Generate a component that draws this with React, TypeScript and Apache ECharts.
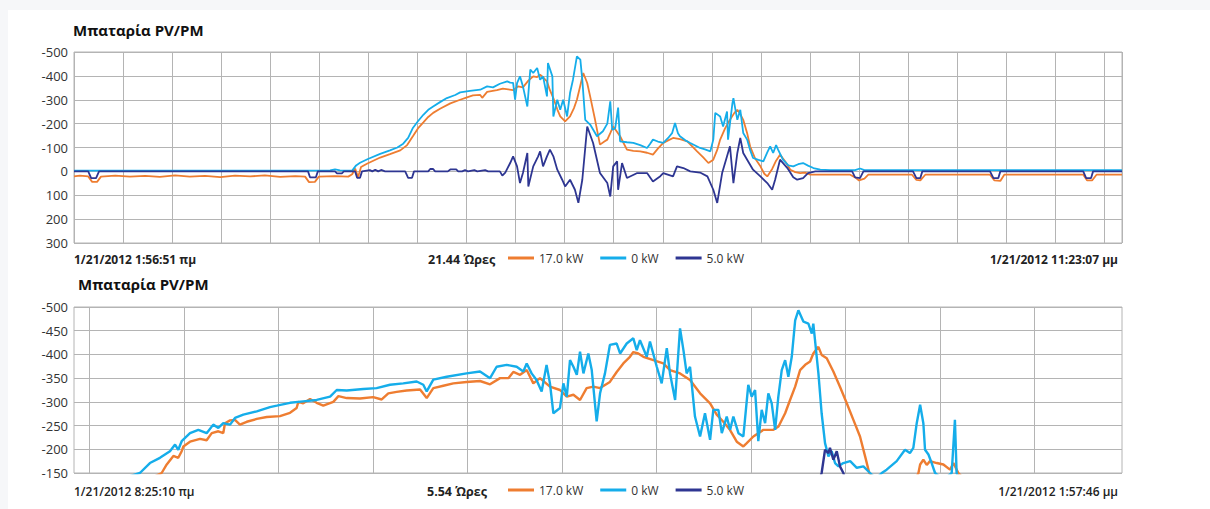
import React, { useEffect, useRef } from "react";
import * as echarts from "echarts";

// ---------- DATA ----------
const SERIES_NAMES = ["17.0 kW", "0 kW", "5.0 kW"];
const COLORS = ["#EE7D31", "#15ADEA", "#2E3692"];

const TITLE = "Μπαταρία PV/PM";
const TOP_START_LABEL = "1/21/2012 1:56:51 πμ";
const TOP_END_LABEL = "1/21/2012 11:23:07 μμ";
const TOP_SPAN_LABEL = "21.44 Ώρες";
const BOTTOM_START_LABEL = "1/21/2012 8:25:10 πμ";
const BOTTOM_END_LABEL = "1/21/2012 1:57:46 μμ";
const BOTTOM_SPAN_LABEL = "5.54 Ώρες";

// top panel: x = hours since 1:56:51
const TOP_X_MAX = 21.36;
// bottom panel: x = clock hours
const BOTTOM_X_MIN = 8.4194;
const BOTTOM_X_MAX = 13.9628;
const BOTTOM_GRID_HOURS = [8.5, 9, 9.5, 10, 10.5, 11, 11.5, 12, 12.5, 13, 13.5];

const TOP_ORANGE: [number, number][] = [
  [0, 21], [0.12, 18], [0.29, 21], [0.37, 44], [0.47, 44], [0.55, 22], [0.84, 18], [1.14, 22], [1.45, 19],
  [1.75, 23], [2.06, 17], [2.36, 22], [2.67, 19], [2.98, 24], [3.28, 18], [3.59, 21], [3.89, 17], [4.2, 23],
  [4.51, 20], [4.71, 22], [4.79, 45], [4.91, 44], [4.99, 22], [5.32, 20], [5.59, 22], [5.67, 12], [5.73, -12],
  [5.79, 25], [5.85, -18], [5.97, -32], [6.24, -58], [6.44, -72], [6.65, -88], [6.79, -110], [6.91, -148],
  [7.01, -180], [7.12, -205], [7.22, -228], [7.32, -245], [7.46, -262], [7.67, -285], [7.87, -300], [8.01, -310],
  [8.13, -318], [8.28, -320], [8.32, -308], [8.42, -333], [8.62, -340], [8.74, -347], [8.95, -340], [9.05, -356],
  [9.15, -352], [9.26, -380],
  [9.36, -398], [9.44, -395], [9.5, -405], [9.58, -390], [9.64, -377], [9.7, -340], [9.77, -307], [9.85, -260],
  [9.91, -230], [10.01, -209], [10.11, -230], [10.19, -265], [10.25, -300], [10.32, -360], [10.38, -412],
  [10.46, -370], [10.52, -314], [10.62, -216], [10.72, -112], [10.81, -125], [10.87, -133], [10.93, -160],
  [10.99, -188], [11.07, -165], [11.13, -147], [11.27, -91], [11.4, -86], [11.54, -84], [11.68, -78],
  [11.8, -70], [11.9, -95], [12.01, -119], [12.11, -130], [12.21, -140], [12.35, -135], [12.5, -126],
  [12.6, -105], [12.7, -84], [12.82, -60], [12.93, -35], [13.03, -49], [13.11, -90], [13.17, -133],
  [13.27, -180], [13.37, -216], [13.46, -245], [13.52, -258], [13.58, -240], [13.64, -216], [13.72, -160],
  [13.78, -105], [13.88, -55], [13.99, -21], [14.07, 10], [14.13, 21], [14.23, -10], [14.31, -45], [14.39, -70],
  [14.5, -40], [14.6, -7], [14.7, 3], [14.8, 7], [14.9, 5], [15.01, 14], [15.21, 14], [15.82, 14], [15.92, 25],
  [16.0, 38], [16.11, 30], [16.19, 14], [17.08, 14], [17.17, 36], [17.25, 38], [17.35, 14], [18.67, 14],
  [18.76, 38], [18.88, 40], [18.96, 14], [20.57, 14], [20.65, 38], [20.75, 38], [20.84, 14], [21.36, 14],
];

const TOP_CYAN: [number, number][] = [
  [0, -3], [4.61, -3], [5.22, -4], [5.32, -8], [5.42, -4], [5.67, -3], [5.75, -25], [5.83, -36], [5.99, -52],
  [6.24, -73], [6.44, -88], [6.59, -100], [6.71, -116], [6.81, -140], [6.91, -183], [7.01, -210], [7.12, -237],
  [7.22, -258], [7.32, -272], [7.46, -290], [7.6, -307], [7.77, -320], [7.87, -331], [8.07, -337], [8.28, -342],
  [8.42, -356], [8.54, -352], [8.68, -367], [8.83, -377], [8.89, -372], [8.95, -371], [8.99, -300],
  [9.03, -370], [9.09, -398], [9.15, -356], [9.24, -272], [9.3, -426], [9.36, -412], [9.44, -433], [9.5, -384],
  [9.56, -398], [9.64, -314], [9.66, -454], [9.75, -398], [9.77, -230], [9.85, -300], [9.91, -258], [9.97, -300],
  [10.05, -230], [10.11, -328], [10.17, -384], [10.25, -482], [10.32, -468], [10.36, -384], [10.42, -216],
  [10.52, -196], [10.66, -147], [10.78, -168], [10.87, -200], [10.93, -293], [10.97, -175], [11.03, -180],
  [11.09, -267], [11.13, -126], [11.27, -122], [11.4, -119], [11.54, -110], [11.68, -98], [11.74, -115],
  [11.8, -133], [11.9, -125], [12.01, -119], [12.11, -140], [12.19, -160], [12.25, -203], [12.31, -160],
  [12.35, -147], [12.46, -130], [12.56, -119], [12.76, -98], [12.86, -92], [12.97, -84], [13.03, -133],
  [13.07, -245], [13.17, -230], [13.23, -188], [13.31, -251], [13.33, -133], [13.42, -286], [13.44, -307],
  [13.48, -260], [13.52, -216], [13.58, -258], [13.64, -161], [13.72, -133], [13.78, -90], [13.84, -56],
  [13.95, -48], [14.05, -42], [14.13, -80], [14.19, -105], [14.25, -77], [14.31, -110], [14.35, -91],
  [14.45, -49], [14.56, -25], [14.66, -21], [14.76, -30], [14.86, -35], [14.96, -24], [15.07, -14],
  [15.21, -7], [15.41, -5], [15.92, -5], [16.02, -12], [16.11, -5], [21.36, -5],
];

const TOP_NAVY: [number, number][] = [
  [0, 0], [0.29, 0], [0.35, 28], [0.45, 28], [0.51, 0], [4.77, 0], [4.81, 25], [4.93, 25], [4.97, 0],
  [5.32, 0], [5.36, 8], [5.46, 8], [5.5, 0], [5.73, 0], [5.77, 27], [5.83, 27], [5.87, 0], [6.03, -5],
  [6.08, 0], [6.14, -7], [6.2, 0], [6.26, -6], [6.34, 0], [6.75, 0], [6.81, 27], [6.89, 27], [6.93, 0],
  [7.22, 0], [7.26, -10], [7.32, -10], [7.36, 0], [7.62, 0], [7.67, -8], [7.79, -8], [7.83, 0], [7.91, 0],
  [7.97, -5], [8.03, 0], [8.16, -5], [8.22, 0], [8.38, -5], [8.44, 0], [8.68, 0], [8.73, 18], [8.79, 5],
  [8.89, -35], [8.95, -63], [9.03, -21], [9.09, 49], [9.15, 7], [9.24, -77], [9.26, 63], [9.36, -21],
  [9.46, -63], [9.5, -84], [9.56, -21], [9.64, -63], [9.7, -91], [9.77, -63], [9.85, -7], [9.95, 35],
  [10.01, 63], [10.11, 35], [10.21, 77], [10.28, 132], [10.36, 35], [10.46, -188], [10.58, -119], [10.72, 7],
  [10.87, 49], [10.93, 105], [10.99, -21], [11.07, -42], [11.09, 77], [11.17, -35], [11.27, 28], [11.48, 7],
  [11.68, 7], [11.8, 42], [11.95, 20], [12.01, 7], [12.21, 21], [12.29, -21], [12.42, -14], [12.56, 0],
  [12.76, 5], [12.91, 21], [13.03, 77], [13.11, 132], [13.21, 7], [13.31, -63], [13.37, -105], [13.44, 49],
  [13.52, -77], [13.58, -140], [13.64, -77], [13.72, -49], [13.84, -7], [13.99, 21], [14.13, 49], [14.23, 77],
  [14.29, 35], [14.39, -49], [14.54, -14], [14.66, 25], [14.74, 35], [14.86, 28], [14.96, 7], [15.11, 0],
  [15.86, 0], [15.92, 25], [16.02, 28], [16.09, 0], [17.1, 0], [17.17, 28], [17.25, 28], [17.29, 0],
  [18.67, 0], [18.74, 28], [18.84, 28], [18.88, 0], [20.57, 0], [20.63, 28], [20.73, 28], [20.77, 0], [21.36, 0],
];

const BOTTOM_ORANGE: [number, number][] = [
  [8.419, -88], [8.663, -118], [8.821, -138], [8.883, -150], [8.91, -168], [8.945, -186], [8.971, -182],
  [8.989, -196], [8.998, -206], [9.033, -216], [9.086, -222], [9.121, -219], [9.148, -234], [9.183, -238],
  [9.209, -234], [9.218, -255], [9.245, -261], [9.271, -262], [9.297, -252], [9.333, -258], [9.386, -264],
  [9.439, -268], [9.509, -270], [9.562, -277], [9.597, -287], [9.606, -300], [9.632, -297], [9.668, -306],
  [9.703, -298], [9.738, -292], [9.791, -300], [9.818, -312], [9.862, -308], [9.932, -307], [10.002, -310],
  [10.047, -305], [10.082, -318], [10.126, -321], [10.179, -324], [10.25, -326], [10.285, -308], [10.32, -329],
  [10.373, -334], [10.426, -339], [10.496, -342], [10.567, -344], [10.62, -337], [10.673, -350], [10.717, -350],
  [10.743, -363], [10.779, -357], [10.814, -367], [10.849, -339], [10.884, -350], [10.937, -332], [10.99, -325],
  [11.026, -311], [11.061, -315], [11.096, -304], [11.131, -329], [11.166, -332], [11.202, -329], [11.254, -342],
  [11.29, -363], [11.325, -381], [11.36, -395], [11.378, -405], [11.404, -402], [11.431, -395], [11.484, -388],
  [11.537, -381], [11.572, -367], [11.625, -360], [11.678, -346], [11.731, -318], [11.784, -297], [11.819, -273],
  [11.854, -258], [11.889, -241], [11.925, -216], [11.96, -206], [11.978, -213], [12.013, -227], [12.066, -241],
  [12.119, -241], [12.146, -248], [12.181, -276], [12.207, -304], [12.234, -332], [12.26, -367], [12.287, -378],
  [12.313, -385], [12.33, -402], [12.357, -416], [12.374, -399], [12.401, -392], [12.436, -364], [12.471, -332],
  [12.507, -297], [12.542, -262], [12.577, -227], [12.604, -185], [12.626, -150], [12.683, -115], [12.789, -110],
  [12.868, -135], [12.886, -150], [12.895, -168], [12.912, -178], [12.93, -167], [12.947, -175], [12.983, -171],
  [13.018, -168], [13.053, -157], [13.071, -171], [13.097, -150], [13.133, -135], [13.25, -95], [13.5, -85],
  [13.963, -75],
];

const BOTTOM_CYAN: [number, number][] = [
  [8.419, -100], [8.65, -135], [8.768, -150], [8.821, -171], [8.874, -182], [8.927, -196], [8.954, -210],
  [8.971, -199], [8.989, -217], [9.033, -234], [9.077, -241], [9.121, -234], [9.156, -252], [9.183, -245],
  [9.209, -255], [9.245, -252], [9.271, -266], [9.315, -273], [9.386, -280], [9.456, -289], [9.492, -292],
  [9.562, -298], [9.632, -301], [9.703, -304], [9.774, -311], [9.809, -325], [9.862, -324], [9.95, -327],
  [10.02, -329], [10.091, -336], [10.161, -339], [10.232, -343], [10.267, -336], [10.285, -322], [10.32, -347],
  [10.391, -353], [10.496, -360], [10.567, -364], [10.62, -350], [10.655, -374], [10.708, -378], [10.761, -374],
  [10.796, -364], [10.814, -381], [10.84, -360], [10.866, -346], [10.893, -322], [10.919, -378], [10.937, -339],
  [10.955, -276], [10.99, -287], [11.008, -339], [11.026, -311], [11.043, -388], [11.061, -374], [11.079, -357],
  [11.096, -406], [11.114, -360], [11.14, -402], [11.158, -367], [11.184, -259], [11.202, -318], [11.228, -360],
  [11.254, -420], [11.29, -423], [11.308, -402], [11.343, -423], [11.378, -434], [11.396, -409], [11.413, -430],
  [11.449, -395], [11.466, -427], [11.502, -374], [11.528, -339], [11.555, -413], [11.572, -360], [11.599, -304],
  [11.625, -455], [11.643, -409], [11.66, -360], [11.678, -374], [11.704, -269], [11.731, -227], [11.757, -276],
  [11.784, -220], [11.801, -283], [11.828, -283], [11.846, -234], [11.872, -269], [11.89, -241], [11.907, -269],
  [11.934, -234], [11.96, -227], [11.986, -336], [12.004, -311], [12.022, -325], [12.039, -217], [12.057, -283],
  [12.075, -255], [12.092, -318], [12.11, -297], [12.128, -241], [12.145, -311], [12.163, -367], [12.181, -388],
  [12.198, -353], [12.216, -395], [12.234, -472], [12.251, -493], [12.278, -469], [12.304, -465], [12.322, -444],
  [12.33, -465], [12.357, -360], [12.374, -276], [12.392, -213], [12.41, -185], [12.427, -196], [12.445, -171],
  [12.463, -164], [12.489, -171], [12.525, -175], [12.56, -161], [12.595, -164], [12.63, -150], [12.662, -138],
  [12.692, -150], [12.718, -157], [12.771, -175], [12.815, -199], [12.841, -192], [12.859, -203], [12.877, -255],
  [12.895, -294], [12.912, -255], [12.921, -199], [12.939, -189], [12.956, -171], [12.974, -150], [13.016, -135],
  [13.062, -150], [13.079, -262], [13.088, -150], [13.116, -120], [13.3, -120], [13.6, -105], [13.963, -119],
];

const BOTTOM_NAVY: [number, number][] = [
  [8.419, 0], [10.5, 0], [11.0, -60], [11.6, -80], [12.0, -90], [12.2, 20], [12.35, -120], [12.374, -150],
  [12.392, -199], [12.41, -192], [12.418, -203], [12.436, -178], [12.454, -196], [12.471, -164], [12.489, -150],
  [12.52, -110], [12.7, 10], [13.2, 20], [13.963, 5],
];

// ---------- CHART ----------
const FONT = "'Open Sans', 'Noto Sans', sans-serif";
const GRID_COLOR = "#b4b4b4";

function lineSeries(name: string, color: string, data: [number, number][], idx: number, width: number, extra: any = {}) {
  return {
    type: "line",
    name,
    xAxisIndex: idx,
    yAxisIndex: idx,
    data,
    showSymbol: false,
    symbol: "none",
    color,
    lineStyle: { color, width },
    itemStyle: { color },
    emphasis: { disabled: true },
    clip: true,
    ...extra,
  };
}

export default function App() {
  const ref = useRef<HTMLDivElement>(null);
  useEffect(() => {
    if (!ref.current) return;
    const chart = echarts.init(ref.current, undefined, { renderer: "svg" });
    const legendBase = {
      left: 508,
      padding: 0,
      icon: "rect",
      itemWidth: 26,
      itemHeight: 3,
      itemGap: 17,
      data: SERIES_NAMES,
      selectedMode: false,
      textStyle: { fontSize: 12, color: "#333", fontFamily: FONT },
    };
    const yLabel = { fontSize: 13, color: "#333", fontFamily: FONT, margin: 6 };
    const option: any = {
      animation: false,
      grid: [
        { left: 74, top: 52, width: 1048, height: 191, show: true, borderColor: GRID_COLOR, borderWidth: 1 },
        { left: 74, top: 307, width: 1048, height: 166, show: true, borderColor: GRID_COLOR, borderWidth: 1 },
      ],
      xAxis: [
        {
          gridIndex: 0,
          type: "value",
          min: 0,
          max: TOP_X_MAX,
          interval: 1,
          axisLabel: { show: false },
          axisLine: { show: false },
          axisTick: { show: true, length: 3, lineStyle: { color: GRID_COLOR } },
          splitLine: { show: true, lineStyle: { color: GRID_COLOR, width: 1 } },
        },
        {
          gridIndex: 1,
          type: "value",
          min: BOTTOM_X_MIN,
          max: BOTTOM_X_MAX,
          axisLabel: { show: false },
          axisLine: { show: false },
          axisTick: { show: false },
          splitLine: { show: false },
        },
      ],
      yAxis: [
        {
          gridIndex: 0,
          type: "value",
          inverse: true,
          min: -500,
          max: 300,
          interval: 100,
          axisLine: { show: false },
          axisTick: { show: false },
          axisLabel: yLabel,
          splitLine: { show: true, lineStyle: { color: GRID_COLOR, width: 1 } },
        },
        {
          gridIndex: 1,
          type: "value",
          inverse: true,
          min: -500,
          max: -150,
          interval: 50,
          axisLine: { show: false },
          axisTick: { show: false },
          axisLabel: yLabel,
          splitLine: { show: true, lineStyle: { color: GRID_COLOR, width: 1 } },
        },
      ],
      legend: [
        { ...legendBase, top: 252 },
        { ...legendBase, top: 484 },
      ],
      series: [
        lineSeries(SERIES_NAMES[0], COLORS[0], TOP_ORANGE, 0, 1.8),
        lineSeries(SERIES_NAMES[1], COLORS[1], TOP_CYAN, 0, 1.8),
        lineSeries(SERIES_NAMES[2], COLORS[2], TOP_NAVY, 0, 1.8),
        lineSeries(SERIES_NAMES[0], COLORS[0], BOTTOM_ORANGE, 1, 2.4, {
          markLine: {
            silent: true,
            z: 1,
            symbol: ["none", "none"],
            label: { show: false },
            emphasis: { disabled: true },
            lineStyle: { color: GRID_COLOR, width: 1, type: "solid" },
            data: BOTTOM_GRID_HOURS.map((h) => ({ xAxis: h })),
          },
        }),
        lineSeries(SERIES_NAMES[1], COLORS[1], BOTTOM_CYAN, 1, 2.4),
        lineSeries(SERIES_NAMES[2], COLORS[2], BOTTOM_NAVY, 1, 2.4),
      ],
      graphic: [
        { type: "text", x: 73, y: 30, style: { text: TITLE, font: `bold 15px ${FONT}`, fill: "#111", verticalAlign: "middle" } },
        { type: "text", x: 78, y: 284, style: { text: TITLE, font: `bold 15px ${FONT}`, fill: "#111", verticalAlign: "middle" } },
        { type: "text", x: 74, y: 259, style: { text: TOP_START_LABEL, font: `bold 12px ${FONT}`, fill: "#222", verticalAlign: "middle" } },
        { type: "text", x: 428, y: 259, style: { text: TOP_SPAN_LABEL, font: `bold 12.5px ${FONT}`, fill: "#222", verticalAlign: "middle" } },
        { type: "text", x: 1118, y: 259, style: { text: TOP_END_LABEL, font: `bold 12px ${FONT}`, fill: "#222", align: "right", verticalAlign: "middle" } },
        { type: "text", x: 74, y: 491, style: { text: BOTTOM_START_LABEL, font: `600 12px ${FONT}`, fill: "#222", verticalAlign: "middle" } },
        { type: "text", x: 427, y: 491, style: { text: BOTTOM_SPAN_LABEL, font: `bold 12.5px ${FONT}`, fill: "#222", verticalAlign: "middle" } },
        { type: "text", x: 1118, y: 491, style: { text: BOTTOM_END_LABEL, font: `600 12px ${FONT}`, fill: "#222", align: "right", verticalAlign: "middle" } },
      ],
    };
    chart.setOption(option);
    return () => chart.dispose();
  }, []);
  return (
    <div style={{ position: "fixed", left: 0, top: 0, width: 1210, height: 509, background: "#f6f7f9" }}>
      <div style={{ position: "absolute", left: 8, top: 10, width: 1202, height: 499, background: "#ffffff" }} />
      <div ref={ref} style={{ position: "absolute", left: 0, top: 0, width: 1210, height: 509 }} />
    </div>
  );
}
